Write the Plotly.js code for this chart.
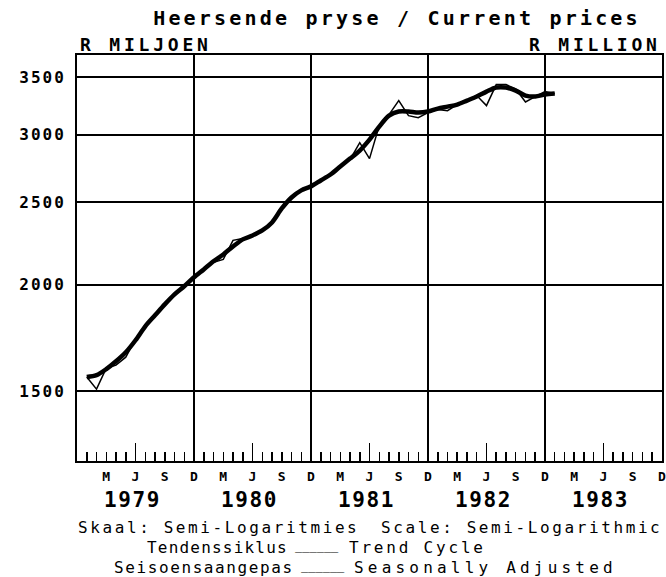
<!DOCTYPE html>
<html>
<head>
<meta charset="utf-8">
<script src="https://cdn.plot.ly/plotly-3.0.1.min.js"></script>
<style>
html,body{margin:0;padding:0;background:#fff;}
#chart{width:666px;height:577px;}
</style>
</head>
<body>
<div id="chart"></div>
<script>
// ---- data ----
const months = [
  '1979-01','1979-02','1979-03','1979-04','1979-05','1979-06','1979-07','1979-08','1979-09','1979-10','1979-11','1979-12',
  '1980-01','1980-02','1980-03','1980-04','1980-05','1980-06','1980-07','1980-08','1980-09','1980-10','1980-11','1980-12',
  '1981-01','1981-02','1981-03','1981-04','1981-05','1981-06','1981-07','1981-08','1981-09','1981-10','1981-11','1981-12',
  '1982-01','1982-02','1982-03','1982-04','1982-05','1982-06','1982-07','1982-08','1982-09','1982-10','1982-11','1982-12',
  '1983-01'
];
const trendCycle = [
  1558,1566,1592,1626,1666,1721,1787,1841,1896,1948,1991,2040,
  2084,2130,2170,2217,2260,2284,2315,2366,2457,2531,2580,2608,
  2650,2693,2752,2811,2873,2959,3065,3157,3192,3192,3183,3192,
  3218,3235,3253,3288,3324,3369,3406,3406,3378,3333,3324,3342,
  3351
];
const seasonallyAdjusted = [
  1558,1508,1596,1609,1644,1726,1792,1836,1902,1943,1996,2034,
  2090,2124,2141,2254,2265,2284,2315,2372,2450,2531,2587,2608,
  2650,2686,2752,2803,2935,2811,3073,3166,3288,3157,3140,3183,
  3209,3200,3253,3288,3333,3244,3433,3433,3393,3276,3324,3369,
  3351
];
const monthLetters = ['J','F','M','A','M','J','J','A','S','O','N','D'];
const quarterMonths = [3,6,9,12];
const years = ['1979','1980','1981','1982','1983'];
const yTicks = [1500,2000,2500,3000,3500];

// ---- helpers ----
const mono = 'DejaVu Sans Mono';
function sp(t, ls){ return '<span style="letter-spacing:' + ls + 'px">' + t + '</span>'; }
// month index: Dec 1978 = 0
const xIdx = months.map(s => { const p = s.split('-').map(Number); return (p[0]-1978)*12 + p[1] - 12; });
const nMonths = years.length*12;
const tickvals = [], ticktext = [];
for (let i = 0; i <= nMonths; i++) {
  const cal = ((i + 11) % 12) + 1;
  tickvals.push(i);
  ticktext.push(i > 0 && quarterMonths.includes(cal) ? monthLetters[cal-1] : '');
}
const juneTicks = years.map((y,k) => k*12 + 6);
const decGrid = years.slice(0, -1).map((y,k) => (k+1)*12);
const xRange = [-0.002, nMonths + 0.002];

const L = 77, R = 662, T = 55, B = 461;
const px = x => (x - L) / (R - L);
const py = y => (B - y) / (B - T);

const traces = [
  {x: xIdx, y: trendCycle, name: 'Trend Cycle', mode: 'lines', xaxis: 'x', yaxis: 'y',
   line: {color: '#000', width: 4.5, shape: 'spline', smoothing: 0.8}},
  {x: xIdx, y: seasonallyAdjusted, name: 'Seasonally Adjusted', mode: 'lines', xaxis: 'x2', yaxis: 'y',
   line: {color: '#000', width: 1.5}}
];

const txt = (text, x, y, xanchor, size, bold, ls, xref) => ({
  text: sp(text, ls), x: x, y: y, xref: xref || 'paper', yref: 'paper',
  xanchor: xanchor, yanchor: 'middle', showarrow: false,
  font: {family: mono, size: size, color: '#000', weight: bold ? 'bold' : 'normal'}
});

const annotations = [
  txt('R MILJOEN', px(78), py(45), 'left', 18, true, 3.8),
  txt('R MILLION', px(663), py(45), 'right', 18, true, 3.8),
  txt('Skaal: Semi-Logaritmies', px(76), py(527), 'left', 16, false, 2.6),
  txt('Scale: Semi-Logarithmic', px(664), py(527), 'right', 16, false, 2.6),
  txt('Tendenssiklus', px(290), py(547), 'right', 16, false, 1.2),
  txt('______', px(317), py(546), 'center', 12, false, 0),
  txt('Trend Cycle', px(347), py(547), 'left', 16, false, 2.8),
  txt('Seisoensaangepas', px(296), py(567), 'right', 16, false, 1.6),
  txt('______', px(323), py(566), 'center', 12, false, 0),
  txt('Seasonally Adjusted', px(352), py(567), 'left', 16, false, 4.2)
];
years.forEach((y, k) => annotations.push(txt(y, k*12 + 5.7, py(500), 'center', 21, true, 1.6, 'x')));

const layout = {
  width: 666, height: 577,
  margin: {l: L, r: 666 - R, t: T, b: 577 - B, pad: 0},
  paper_bgcolor: '#fff', plot_bgcolor: '#fff',
  showlegend: false,
  title: {text: sp('Heersende pryse / Current prices', 3.2), xref: 'container', x: 397/666, xanchor: 'center',
          yref: 'container', y: 1 - 18/577, yanchor: 'middle',
          font: {family: mono, size: 20, color: '#000', weight: 'bold'}},
  xaxis: {range: xRange, tickmode: 'array', tickvals: tickvals, ticktext: ticktext,
          ticks: 'inside', ticklen: 9, tickwidth: 1.5, tickcolor: '#000',
          showgrid: false, zeroline: false, showline: true, linecolor: '#000', linewidth: 2, mirror: true,
          ticklabeloverflow: 'allow',
          tickfont: {family: mono, size: 13, color: '#000', weight: 'bold'}, ticklabelstandoff: 2},
  xaxis2: {overlaying: 'x', anchor: 'y', range: xRange, tickmode: 'array', tickvals: decGrid,
           ticks: '', showticklabels: false, showgrid: true, gridcolor: '#000', gridwidth: 2,
           zeroline: false, showline: false,
           minor: {tickmode: 'array', tickvals: juneTicks, ticks: 'inside', ticklen: 18, tickwidth: 1.5,
                   tickcolor: '#000', showgrid: false}},
  yaxis: {type: 'log', range: [Math.log10(1242), Math.log10(3719)], tickmode: 'array',
          tickvals: yTicks, ticktext: yTicks.map(v => sp(String(v), 2)),
          ticks: '', showgrid: true, gridcolor: '#000', gridwidth: 2,
          showline: true, linecolor: '#000', linewidth: 2, mirror: true, zeroline: false,
          tickfont: {family: mono, size: 16, color: '#000', weight: 'bold'}, ticklabelstandoff: 6},
  annotations: annotations
};

Plotly.newPlot('chart', traces, layout, {staticPlot: true, displayModeBar: false});
</script>
</body>
</html>
